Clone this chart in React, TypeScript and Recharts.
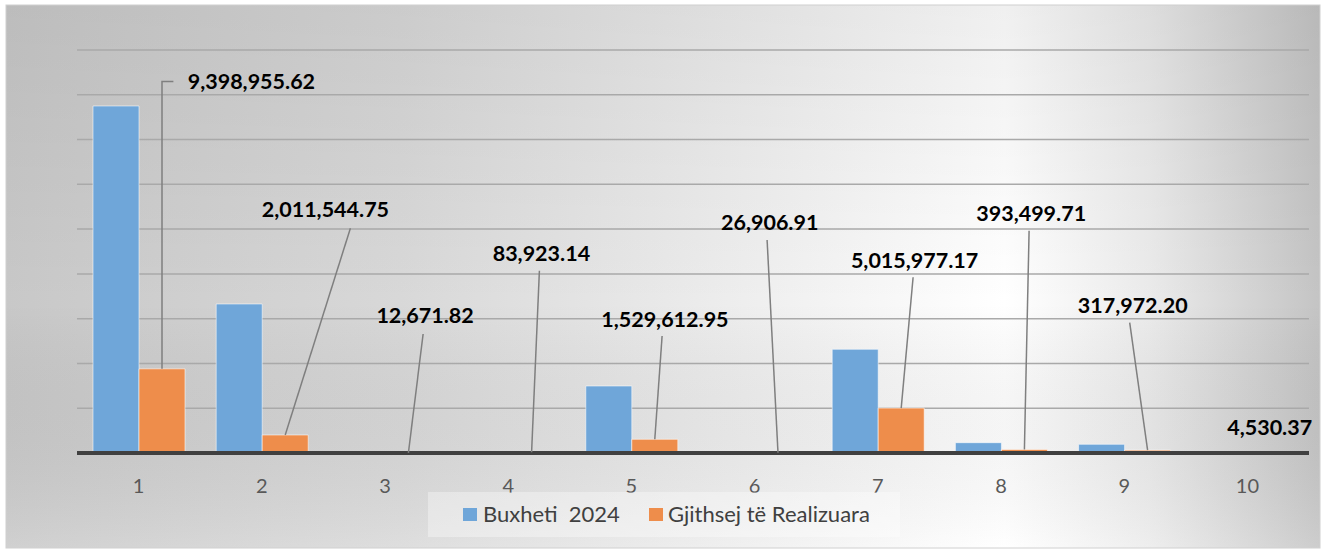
import React from 'react';
import { BarChart, Bar, XAxis, YAxis, CartesianGrid, Legend, LabelList } from 'recharts';

// ---- data ----
const categories = ['1', '2', '3', '4', '5', '6', '7', '8', '9', '10'];
const budget2024 = [38750000, 16640000, 15000, 120000, 7480000, 60000, 11580000, 1150000, 970000, 8000];
const realized = [9398955.62, 2011544.75, 12671.82, 83923.14, 1529612.95, 26906.91, 5015977.17, 393499.71, 317972.2, 4530.37];
const yTicks = [0, 5000000, 10000000, 15000000, 20000000, 25000000, 30000000, 35000000, 40000000, 45000000];

const SERIES_BUDGET = 'Buxheti  2024';
const SERIES_REALIZED = 'Gjithsej të Realizuara';

// ---- label placement (offsets from top-centre of each orange bar) ----
type LabelPos = { dx: number; dy: number; ex?: number; ey?: number; elbow?: boolean };
const labelOffsets: LabelPos[] = [
  { dx: 89.4, dy: -279.5, ex: 11.4, ey: -287.3, elbow: true },
  { dx: 40.2, dy: -218.3, ex: 65.2, ey: -206.7 },
  { dx: 16.7, dy: -129.9, ex: 14.7, ey: -118.9 },
  { dx: 9.8, dy: -191.5, ex: 7.8, ey: -181.5 },
  { dx: 10.1, dy: -112.6, ex: 7.3, ey: -103.3 },
  { dx: -8.3, dy: -222.8, ex: -10.9, ey: -212.8 },
  { dx: 13.4, dy: -139.8, ex: 11.9, ey: -130.8 },
  { dx: 6.8, dy: -228.8, ex: 4.7, ey: -218.8 },
  { dx: -14.9, dy: -136.9, ex: -17.9, ey: -127.5 },
  { dx: -1.1, dy: -18 },
];

const BLUE = '#6FA6D9';
const ORANGE = '#EE8D4B';
const FONT = 'Lato, "Open Sans", sans-serif';

const data = categories.map((c, i) => ({ cat: c, budget: budget2024[i], realized: realized[i] }));

const fmt = (v: number) =>
  v.toLocaleString('en-US', { minimumFractionDigits: 2, maximumFractionDigits: 2 });

const renderRealizedLabel = (props: any) => {
  const vb = props.viewBox || {};
  const x = props.x ?? vb.x;
  const y = props.y ?? vb.y;
  const width = props.width ?? vb.width;
  const index = props.index;
  const o = labelOffsets[index];
  if (!o) return null;
  const bx = x + width / 2;
  const by = y;
  let leader: React.ReactNode = null;
  if (o.elbow && o.ex !== undefined && o.ey !== undefined) {
    leader = (
      <polyline
        points={`${bx},${by} ${bx},${by + o.ey} ${bx + o.ex},${by + o.ey}`}
        fill="none"
        stroke="#7f7f7f"
        strokeWidth={1.5}
      />
    );
  } else if (o.ex !== undefined && o.ey !== undefined) {
    leader = <line x1={bx} y1={by} x2={bx + o.ex} y2={by + o.ey} stroke="#7f7f7f" strokeWidth={1.5} />;
  }
  return (
    <g>
      {leader}
      <text
        x={bx + o.dx}
        y={by + o.dy}
        textAnchor="middle"
        fontFamily={FONT}
        fontWeight={700}
        fontSize={21.5}
        fill="#000"
      >
        {fmt(realized[index])}
      </text>
    </g>
  );
};

const renderTick = (props: any) => {
  const { x, y, payload } = props;
  return (
    <text x={x} y={y + 39.5} textAnchor="middle" fontFamily={FONT} fontSize={20} fill="#595959">
      {payload.value}
    </text>
  );
};

const renderLegend = () => (
  <svg width={472} height={45} style={{ display: 'block' }}>
    <rect x={0} y={0} width={472} height={45} fill="#ffffff" fillOpacity={0.35} />
    <rect x={35} y={16} width={14} height={13} fill={BLUE} />
    <text x={55} y={29.7} fontFamily={FONT} fontSize={22} fill="#404040" style={{ whiteSpace: 'pre' }}>
      {SERIES_BUDGET}
    </text>
    <rect x={221} y={16} width={14} height={13} fill={ORANGE} />
    <text x={240} y={29.7} fontFamily={FONT} fontSize={22} fill="#404040">
      {SERIES_REALIZED}
    </text>
  </svg>
);

export default function App() {
  return (
    <div style={{ position: 'absolute', left: 0, top: 0, width: 1322, height: 550, background: '#fff' }}>
      <svg width={1322} height={550} style={{ position: 'absolute', left: 0, top: 0 }}>
        <defs>
          <linearGradient id="bgH" x1="0" y1="0" x2="1" y2="0">
            <stop offset="0" stopColor="#c8c8c8" />
            <stop offset="0.3" stopColor="#d8d8d8" />
            <stop offset="0.55" stopColor="#ededed" />
            <stop offset="0.76" stopColor="#ffffff" />
            <stop offset="0.87" stopColor="#ebebeb" />
            <stop offset="1" stopColor="#c4c4c4" />
          </linearGradient>
          <linearGradient id="bgV" x1="0" y1="0" x2="0" y2="1">
            <stop offset="0" stopColor="#000" stopOpacity={0.06} />
            <stop offset="0.55" stopColor="#000" stopOpacity={0} />
            <stop offset="1" stopColor="#fff" stopOpacity={0.15} />
          </linearGradient>
        </defs>
        <rect x={6} y={5} width={1314} height={543} fill="url(#bgH)" />
        <rect x={6} y={5} width={1314} height={543} fill="url(#bgV)" />
        <rect x={6} y={5} width={1314} height={543} fill="none" stroke="#d0d0d0" strokeWidth={1} />
      </svg>
      <div style={{ position: 'absolute', left: 0, top: 0 }}>
        <BarChart
          width={1322}
          height={550}
          data={data}
          margin={{ top: 50, right: 13, left: 77, bottom: 57 }}
          barSize={46}
          barGap={0}
        >
          <CartesianGrid vertical={false} stroke="#a9a9a9" strokeWidth={1.5} />
          <YAxis hide domain={[0, 45000000]} ticks={yTicks} />
          <XAxis
            dataKey="cat"
            height={40}
            tickSize={0}
            tickMargin={0}
            tickLine={false}
            axisLine={{ stroke: '#404040', strokeWidth: 4 }}
            tick={renderTick}
            interval={0}
          />
          <Legend
            verticalAlign="middle"
            align="center"
            layout="horizontal"
            wrapperStyle={{ left: 428, top: 492, width: 472, height: 45 }}
            content={renderLegend}
          />
          <Bar
            dataKey="budget"
            name={SERIES_BUDGET}
            fill={BLUE}
            stroke="#ffffff"
            strokeOpacity={0.55}
            strokeWidth={1}
            isAnimationActive={false}
          />
          <Bar
            dataKey="realized"
            name={SERIES_REALIZED}
            fill={ORANGE}
            stroke="#ffffff"
            strokeOpacity={0.55}
            strokeWidth={1}
            isAnimationActive={false}
          >
            <LabelList dataKey="realized" content={renderRealizedLabel} />
          </Bar>
        </BarChart>
      </div>
    </div>
  );
}
